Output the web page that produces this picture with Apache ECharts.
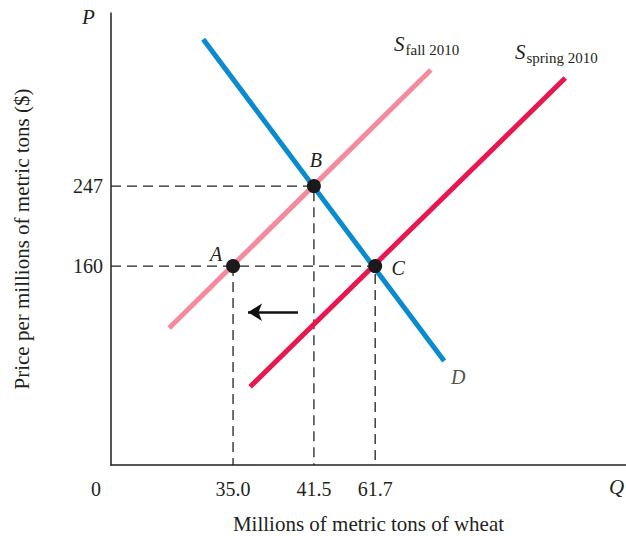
<!DOCTYPE html>
<html><head><meta charset="utf-8">
<script src="https://cdn.jsdelivr.net/npm/echarts@6/dist/echarts.min.js"></script>
<style>html,body{margin:0;padding:0;background:#fff}#c{width:626px;height:536px}</style>
</head><body><div id="c"></div>
<script>
// Schematic diagram: both axes use diagram units 0..100; tick labels carry the real values.
const qTickPos = [23.7, 39.4, 51.3];
const qTickLabels = ['35.0', '41.5', '61.7'];
const pTickPos = [44.0, 61.7];
const pTickLabels = ['160', '247'];
const demand = [[17.9, 94.2], [64.7, 23.0]];
const supplyFall = [[11.3, 30.3], [62.1, 87.4]];
const supplySpring = [[27.0, 17.3], [88.2, 85.6]];
const eqNames = ['A', 'B', 'C'];
const eqPoints = [[23.7, 44.0], [39.4, 61.7], [51.3, 44.0]];
const shiftArrow = [[36.3, 33.8], [26.6, 33.8]];

const FONT = 'Liberation Serif';
const INK = '#231f20';

function fmt(pos, labels) {
  return function (v) {
    for (let i = 0; i < pos.length; i++) if (Math.abs(pos[i] - v) < 1e-6) return labels[i];
    if (Math.abs(v) < 1e-6) return '{z|0}';
    return '';
  };
}

const A = eqPoints[0], B = eqPoints[1], C = eqPoints[2];
const dashStyle = { color: INK, width: 1.3, type: [10, 6] };
const guides = [
  [[0, B[1]], [B[0], B[1]], [B[0], 0]],
  [[0, C[1]], [C[0], C[1]], [C[0], 0]],
  [[A[0], A[1]], [A[0], 0]]
];

const labelOffsets = { A: [-17, -12], B: [2, -26], C: [23, 2] };
const letterStyle = { fontFamily: FONT, fontStyle: 'italic', fontSize: 20, color: INK };

const series = [];
guides.forEach(g => series.push({
  type: 'line', data: g, symbol: 'none', silent: true, lineStyle: dashStyle, z: 1
}));
series.push({ type: 'line', data: supplyFall, symbol: 'none', lineStyle: { color: '#f58a9c', width: 5 }, z: 2 });
series.push({ type: 'line', data: supplySpring, symbol: 'none', lineStyle: { color: '#e8174f', width: 5 }, z: 2 });
series.push({ type: 'line', data: demand, symbol: 'none', lineStyle: { color: '#0a8bd0', width: 5 }, z: 3 });
series.push({
  type: 'scatter', symbolSize: 0, silent: true, z: 4,
  data: [{ value: demand[1], label: Object.assign({ show: true, formatter: 'D', position: 'inside', offset: [14, 16] }, letterStyle) }]
});
series.push({
  type: 'scatter', symbolSize: 14, itemStyle: { color: '#1a1a1a', opacity: 1 }, z: 5,
  data: eqPoints.map((p, i) => ({
    value: p, name: eqNames[i],
    label: Object.assign({ show: true, formatter: eqNames[i], position: 'inside', offset: labelOffsets[eqNames[i]] }, letterStyle)
  })),
  markLine: {
    silent: true, symbol: ['none', 'arrow'], symbolSize: [13, 14],
    label: { show: false },
    lineStyle: { color: '#111', width: 2.5, type: 'solid', opacity: 1 },
    data: [[{ coord: shiftArrow[0] }, { coord: shiftArrow[1] }]]
  }
});

const chart = echarts.init(document.getElementById('c'), null, { renderer: 'svg' });
chart.setOption({
  animation: false,
  backgroundColor: '#fff',
  grid: { left: 111, top: 13, right: 0, bottom: 71, containLabel: false, outerBoundsMode: 'none' },
  xAxis: {
    type: 'value', min: 0, max: 100,
    name: 'Millions of metric tons of wheat', nameLocation: 'middle', nameGap: 48,
    nameTextStyle: { fontFamily: FONT, fontSize: 21, color: INK },
    axisLine: { show: true, lineStyle: { color: INK, width: 1.5 } },
    axisTick: { show: false }, splitLine: { show: false },
    axisLabel: {
      customValues: [0].concat(qTickPos), formatter: fmt(qTickPos, qTickLabels),
      fontFamily: FONT, fontSize: 20, color: INK, margin: 14,
      rich: { z: { fontFamily: FONT, fontSize: 20, color: INK, padding: [0, 30, 0, 0] } }
    }
  },
  yAxis: {
    type: 'value', min: 0, max: 100,
    name: 'Price per millions of metric tons ($)', nameLocation: 'middle', nameGap: 79,
    nameTextStyle: { fontFamily: FONT, fontSize: 21, color: INK },
    axisLine: { show: true, lineStyle: { color: INK, width: 1.5 } },
    axisTick: { show: false }, splitLine: { show: false },
    axisLabel: {
      customValues: pTickPos, formatter: fmt(pTickPos, pTickLabels),
      fontFamily: FONT, fontSize: 20, color: INK, margin: 8
    }
  },
  graphic: [
    { type: 'text', left: 82, top: 6, style: { text: 'P', font: 'italic 21px "Liberation Serif"', fill: INK } },
    { type: 'text', left: 609, top: 476, style: { text: 'Q', font: 'italic 21px "Liberation Serif"', fill: INK } },
    { type: 'text', left: 394, top: 33, style: {
      text: '{s|S}{sub|fall 2010}', rich: {
        s: { font: 'italic 21px "Liberation Serif"', fill: INK, verticalAlign: 'top' },
        sub: { font: '15px "Liberation Serif"', fill: INK, padding: [9, 0, 0, 1] } } } },
    { type: 'text', left: 515, top: 41, style: {
      text: '{s|S}{sub|spring 2010}', rich: {
        s: { font: 'italic 21px "Liberation Serif"', fill: INK, verticalAlign: 'top' },
        sub: { font: '15px "Liberation Serif"', fill: INK, padding: [9, 0, 0, 1] } } } }
  ],
  series: series
});
</script>
</body></html>
